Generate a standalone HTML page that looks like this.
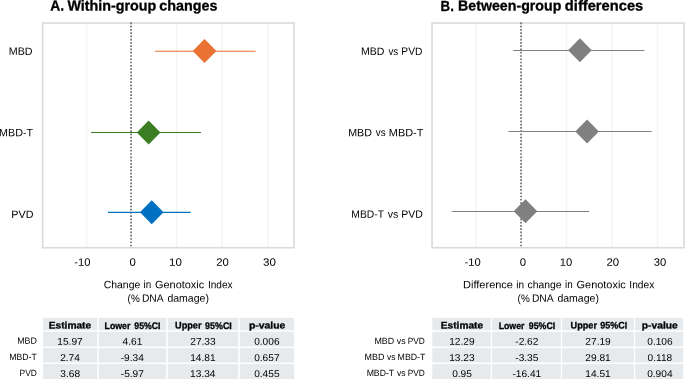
<!DOCTYPE html><html><head><meta charset="utf-8"><title>Forest plot</title><style>html,body{margin:0;padding:0;background:#fff;}svg{display:block;font-family:"Liberation Sans", sans-serif;will-change:transform;}</style></head><body>
<svg width="685" height="379" viewBox="0 0 685 379">
<rect width="685" height="379" fill="#fff"/>
<line x1="86.7" y1="23.05" x2="86.7" y2="247.75" stroke="#f3f3f3" stroke-width="1.3"/>
<line x1="176.6" y1="23.05" x2="176.6" y2="247.75" stroke="#f3f3f3" stroke-width="1.3"/>
<line x1="222.0" y1="23.05" x2="222.0" y2="247.75" stroke="#f3f3f3" stroke-width="1.3"/>
<line x1="267.7" y1="23.05" x2="267.7" y2="247.75" stroke="#f3f3f3" stroke-width="1.3"/>
<rect x="42.6" y="23.05" width="251.4" height="224.7" fill="none" stroke="#dadada" stroke-width="1.6"/>
<line x1="131.05" y1="22.45" x2="131.05" y2="246.4" stroke="#4d4d4d" stroke-width="1.4" stroke-dasharray="1.7 1.568"/>
<line x1="155.0" y1="51.3" x2="255.6" y2="51.3" stroke="#e97132" stroke-width="1.1"/>
<polygon points="192.75,50.90 204.55,38.90 216.35,50.90 204.55,62.90" fill="#e97132"/>
<line x1="91.0" y1="132.5" x2="201.0" y2="132.5" stroke="#3b7d23" stroke-width="1.1"/>
<polygon points="136.85,132.50 148.65,120.50 160.45,132.50 148.65,144.50" fill="#3b7d23"/>
<line x1="108.0" y1="212.35" x2="190.7" y2="212.35" stroke="#0070c0" stroke-width="1.1"/>
<polygon points="139.95,212.15 151.75,200.15 163.55,212.15 151.75,224.15" fill="#0070c0"/>
<text transform="rotate(0.03 57.3 5.5)" x="50.38" y="10.57" font-size="14.6" textLength="13.78" lengthAdjust="spacingAndGlyphs" font-weight="700" stroke="#000" stroke-width="0.3" fill="#000">A.</text>
<text transform="rotate(0.03 111.9 5.5)" x="67.45" y="10.57" font-size="14.6" textLength="88.87" lengthAdjust="spacingAndGlyphs" font-weight="700" stroke="#000" stroke-width="0.3" fill="#000">Within-group</text>
<text transform="rotate(0.03 188.4 5.5)" x="159.30" y="10.57" font-size="14.6" textLength="58.23" lengthAdjust="spacingAndGlyphs" font-weight="700" stroke="#000" stroke-width="0.3" fill="#000">changes</text>
<text transform="rotate(0.03 20.6 51.2)" x="8.71" y="54.88" font-size="10.7" textLength="23.81" lengthAdjust="spacingAndGlyphs" fill="#000">MBD</text>
<text transform="rotate(0.03 16.1 132.7)" x="-0.89" y="136.33" font-size="10.7" textLength="33.92" lengthAdjust="spacingAndGlyphs" fill="#000">MBD-T</text>
<text transform="rotate(0.03 22.4 214.2)" x="11.31" y="217.93" font-size="10.7" textLength="22.11" lengthAdjust="spacingAndGlyphs" fill="#000">PVD</text>
<text transform="rotate(0.03 82.3 262.0)" x="74.20" y="265.68" font-size="10.7" textLength="16.23" lengthAdjust="spacingAndGlyphs" fill="#000">-10</text>
<text transform="rotate(0.03 132.8 262.0)" x="129.59" y="265.68" font-size="10.7" textLength="6.34" lengthAdjust="spacingAndGlyphs" fill="#000">0</text>
<text transform="rotate(0.03 175.4 262.0)" x="169.03" y="265.68" font-size="10.7" textLength="12.81" lengthAdjust="spacingAndGlyphs" fill="#000">10</text>
<text transform="rotate(0.03 222.6 262.0)" x="216.32" y="265.68" font-size="10.7" textLength="12.61" lengthAdjust="spacingAndGlyphs" fill="#000">20</text>
<text transform="rotate(0.03 269.5 262.0)" x="263.09" y="265.68" font-size="10.7" textLength="12.85" lengthAdjust="spacingAndGlyphs" fill="#000">30</text>
<text transform="rotate(0.03 122.0 284.6)" x="103.76" y="288.28" font-size="10.7" textLength="36.51" lengthAdjust="spacingAndGlyphs" fill="#000">Change</text>
<text transform="rotate(0.03 147.5 284.6)" x="143.63" y="288.28" font-size="10.7" textLength="7.67" lengthAdjust="spacingAndGlyphs" fill="#000">in</text>
<text transform="rotate(0.03 179.6 284.6)" x="155.04" y="288.28" font-size="10.7" textLength="49.13" lengthAdjust="spacingAndGlyphs" fill="#000">Genotoxic</text>
<text transform="rotate(0.03 220.3 284.6)" x="207.96" y="288.28" font-size="10.7" textLength="24.64" lengthAdjust="spacingAndGlyphs" fill="#000">Index</text>
<text transform="rotate(0.03 133.7 298.1)" x="127.58" y="301.83" font-size="10.7" textLength="12.16" lengthAdjust="spacingAndGlyphs" fill="#000">(%</text>
<text transform="rotate(0.03 152.8 298.1)" x="141.95" y="301.83" font-size="10.7" textLength="21.75" lengthAdjust="spacingAndGlyphs" fill="#000">DNA</text>
<text transform="rotate(0.03 188.2 298.1)" x="167.42" y="301.83" font-size="10.7" textLength="41.52" lengthAdjust="spacingAndGlyphs" fill="#000">damage)</text>
<line x1="476.3" y1="23.05" x2="476.3" y2="247.75" stroke="#f3f3f3" stroke-width="1.3"/>
<line x1="566.5" y1="23.05" x2="566.5" y2="247.75" stroke="#f3f3f3" stroke-width="1.3"/>
<line x1="612.3" y1="23.05" x2="612.3" y2="247.75" stroke="#f3f3f3" stroke-width="1.3"/>
<line x1="657.5" y1="23.05" x2="657.5" y2="247.75" stroke="#f3f3f3" stroke-width="1.3"/>
<rect x="432.05" y="23.05" width="251.95" height="224.7" fill="none" stroke="#dadada" stroke-width="1.6"/>
<line x1="521.05" y1="22.45" x2="521.05" y2="246.4" stroke="#4d4d4d" stroke-width="1.4" stroke-dasharray="1.7 1.568"/>
<line x1="513.2" y1="50.5" x2="644.4" y2="50.5" stroke="#808080" stroke-width="1.05"/>
<polygon points="568.10,50.30 579.90,38.30 591.70,50.30 579.90,62.30" fill="#808080"/>
<line x1="508.3" y1="131.5" x2="651.8" y2="131.5" stroke="#808080" stroke-width="1.05"/>
<polygon points="575.30,131.60 587.10,119.60 598.90,131.60 587.10,143.60" fill="#808080"/>
<line x1="451.9" y1="211.5" x2="589.1" y2="211.5" stroke="#808080" stroke-width="1.05"/>
<polygon points="513.70,211.30 525.50,199.30 537.30,211.30 525.50,223.30" fill="#808080"/>
<text transform="rotate(0.03 447.2 5.5)" x="440.62" y="10.57" font-size="14.6" textLength="13.21" lengthAdjust="spacingAndGlyphs" font-weight="700" stroke="#000" stroke-width="0.3" fill="#000">B.</text>
<text transform="rotate(0.03 509.7 5.5)" x="458.11" y="10.57" font-size="14.6" textLength="103.20" lengthAdjust="spacingAndGlyphs" font-weight="700" stroke="#000" stroke-width="0.3" fill="#000">Between-group</text>
<text transform="rotate(0.03 604.1 5.5)" x="564.89" y="10.57" font-size="14.6" textLength="78.35" lengthAdjust="spacingAndGlyphs" font-weight="700" stroke="#000" stroke-width="0.3" fill="#000">differences</text>
<text transform="rotate(0.03 372.7 51.2)" x="360.92" y="54.88" font-size="10.7" textLength="23.49" lengthAdjust="spacingAndGlyphs" fill="#000">MBD</text>
<text transform="rotate(0.03 393.3 51.2)" x="388.45" y="54.88" font-size="10.7" textLength="9.70" lengthAdjust="spacingAndGlyphs" fill="#000">vs</text>
<text transform="rotate(0.03 411.9 51.2)" x="401.30" y="54.88" font-size="10.7" textLength="21.11" lengthAdjust="spacingAndGlyphs" fill="#000">PVD</text>
<text transform="rotate(0.03 360.1 132.7)" x="348.22" y="136.33" font-size="10.7" textLength="23.70" lengthAdjust="spacingAndGlyphs" fill="#000">MBD</text>
<text transform="rotate(0.03 380.8 132.7)" x="375.85" y="136.33" font-size="10.7" textLength="9.81" lengthAdjust="spacingAndGlyphs" fill="#000">vs</text>
<text transform="rotate(0.03 406.1 132.7)" x="388.80" y="136.33" font-size="10.7" textLength="34.54" lengthAdjust="spacingAndGlyphs" fill="#000">MBD-T</text>
<text transform="rotate(0.03 367.7 214.1)" x="351.34" y="217.73" font-size="10.7" textLength="32.63" lengthAdjust="spacingAndGlyphs" fill="#000">MBD-T</text>
<text transform="rotate(0.03 392.9 214.1)" x="387.65" y="217.73" font-size="10.7" textLength="10.53" lengthAdjust="spacingAndGlyphs" fill="#000">vs</text>
<text transform="rotate(0.03 412.1 214.1)" x="401.28" y="217.73" font-size="10.7" textLength="21.64" lengthAdjust="spacingAndGlyphs" fill="#000">PVD</text>
<text transform="rotate(0.03 472.7 262.0)" x="464.60" y="265.68" font-size="10.7" textLength="16.23" lengthAdjust="spacingAndGlyphs" fill="#000">-10</text>
<text transform="rotate(0.03 523.0 262.0)" x="519.79" y="265.68" font-size="10.7" textLength="6.34" lengthAdjust="spacingAndGlyphs" fill="#000">0</text>
<text transform="rotate(0.03 566.1 262.0)" x="559.85" y="265.68" font-size="10.7" textLength="12.48" lengthAdjust="spacingAndGlyphs" fill="#000">10</text>
<text transform="rotate(0.03 612.9 262.0)" x="606.51" y="265.68" font-size="10.7" textLength="12.72" lengthAdjust="spacingAndGlyphs" fill="#000">20</text>
<text transform="rotate(0.03 660.0 262.0)" x="653.70" y="265.68" font-size="10.7" textLength="12.53" lengthAdjust="spacingAndGlyphs" fill="#000">30</text>
<text transform="rotate(0.03 488.0 284.6)" x="463.14" y="288.28" font-size="10.7" textLength="49.80" lengthAdjust="spacingAndGlyphs" fill="#000">Difference</text>
<text transform="rotate(0.03 520.3 284.6)" x="516.37" y="288.28" font-size="10.7" textLength="7.79" lengthAdjust="spacingAndGlyphs" fill="#000">in</text>
<text transform="rotate(0.03 544.5 284.6)" x="527.48" y="288.28" font-size="10.7" textLength="34.04" lengthAdjust="spacingAndGlyphs" fill="#000">change</text>
<text transform="rotate(0.03 569.0 284.6)" x="565.13" y="288.28" font-size="10.7" textLength="7.67" lengthAdjust="spacingAndGlyphs" fill="#000">in</text>
<text transform="rotate(0.03 601.2 284.6)" x="576.59" y="288.28" font-size="10.7" textLength="49.23" lengthAdjust="spacingAndGlyphs" fill="#000">Genotoxic</text>
<text transform="rotate(0.03 641.8 284.6)" x="629.35" y="288.28" font-size="10.7" textLength="24.95" lengthAdjust="spacingAndGlyphs" fill="#000">Index</text>
<text transform="rotate(0.03 523.7 298.1)" x="517.58" y="301.83" font-size="10.7" textLength="12.16" lengthAdjust="spacingAndGlyphs" fill="#000">(%</text>
<text transform="rotate(0.03 542.8 298.1)" x="531.95" y="301.83" font-size="10.7" textLength="21.75" lengthAdjust="spacingAndGlyphs" fill="#000">DNA</text>
<text transform="rotate(0.03 578.2 298.1)" x="557.42" y="301.83" font-size="10.7" textLength="41.52" lengthAdjust="spacingAndGlyphs" fill="#000">damage)</text>
<rect x="43.05" y="317.85" width="251.05" height="63.15" fill="#e7eaed"/>
<rect x="97.28" y="316.85" width="1.45" height="64.14999999999998" fill="#fff"/>
<rect x="166.33" y="316.85" width="1.45" height="64.14999999999998" fill="#fff"/>
<rect x="238.18" y="316.85" width="1.45" height="64.14999999999998" fill="#fff"/>
<rect x="42.05" y="330.35" width="253.05" height="1.5" fill="#fff"/>
<rect x="42.05" y="346.55" width="253.05" height="1.5" fill="#fff"/>
<rect x="42.05" y="362.55" width="253.05" height="1.5" fill="#fff"/>
<rect x="432.25" y="317.85" width="250.95" height="63.15" fill="#e7eaed"/>
<rect x="490.80" y="316.85" width="1.3" height="64.14999999999998" fill="#fff"/>
<rect x="560.85" y="316.85" width="1.3" height="64.14999999999998" fill="#fff"/>
<rect x="633.85" y="316.85" width="1.3" height="64.14999999999998" fill="#fff"/>
<rect x="431.25" y="330.35" width="252.95" height="1.5" fill="#fff"/>
<rect x="431.25" y="346.55" width="252.95" height="1.5" fill="#fff"/>
<rect x="431.25" y="362.55" width="252.95" height="1.5" fill="#fff"/>
<text transform="rotate(0.03 70.0 325.2)" x="48.71" y="328.55" font-size="9.6" textLength="42.49" lengthAdjust="spacingAndGlyphs" font-weight="700" stroke="#000" stroke-width="0.3" fill="#000">Estimate</text>
<text transform="rotate(0.03 117.5 325.2)" x="104.60" y="328.55" font-size="9.6" textLength="25.82" lengthAdjust="spacingAndGlyphs" font-weight="700" stroke="#000" stroke-width="0.3" fill="#000">Lower</text>
<text transform="rotate(0.03 147.4 325.2)" x="134.33" y="328.55" font-size="9.6" textLength="26.14" lengthAdjust="spacingAndGlyphs" font-weight="700" stroke="#000" stroke-width="0.3" fill="#000">95%CI</text>
<text transform="rotate(0.03 188.3 325.2)" x="175.02" y="328.55" font-size="9.6" textLength="26.46" lengthAdjust="spacingAndGlyphs" font-weight="700" stroke="#000" stroke-width="0.3" fill="#000">Upper</text>
<text transform="rotate(0.03 218.4 325.2)" x="205.12" y="328.55" font-size="9.6" textLength="26.65" lengthAdjust="spacingAndGlyphs" font-weight="700" stroke="#000" stroke-width="0.3" fill="#000">95%CI</text>
<text transform="rotate(0.03 267.1 325.2)" x="248.90" y="328.55" font-size="9.6" textLength="36.41" lengthAdjust="spacingAndGlyphs" font-weight="700" stroke="#000" stroke-width="0.3" fill="#000">p-value</text>
<text transform="rotate(0.03 27.0 340.7)" x="17.16" y="343.85" font-size="9.15" textLength="19.70" lengthAdjust="spacingAndGlyphs" fill="#000">MBD</text>
<text transform="rotate(0.03 23.0 356.9)" x="9.27" y="360.00" font-size="9.15" textLength="27.42" lengthAdjust="spacingAndGlyphs" fill="#000">MBD-T</text>
<text transform="rotate(0.03 28.2 372.9)" x="19.54" y="376.05" font-size="9.15" textLength="17.30" lengthAdjust="spacingAndGlyphs" fill="#000">PVD</text>
<text transform="rotate(0.03 70.0 341.4)" x="57.34" y="344.74" font-size="9.85" textLength="25.39" lengthAdjust="spacingAndGlyphs" fill="#000">15.97</text>
<text transform="rotate(0.03 132.4 341.4)" x="122.55" y="344.74" font-size="9.85" textLength="19.75" lengthAdjust="spacingAndGlyphs" fill="#000">4.61</text>
<text transform="rotate(0.03 203.0 341.4)" x="190.27" y="344.74" font-size="9.85" textLength="25.39" lengthAdjust="spacingAndGlyphs" fill="#000">27.33</text>
<text transform="rotate(0.03 266.8 341.4)" x="254.15" y="344.74" font-size="9.85" textLength="25.39" lengthAdjust="spacingAndGlyphs" fill="#000">0.006</text>
<text transform="rotate(0.03 70.0 357.6)" x="60.17" y="360.94" font-size="9.85" textLength="19.75" lengthAdjust="spacingAndGlyphs" fill="#000">2.74</text>
<text transform="rotate(0.03 132.3 357.6)" x="120.71" y="360.94" font-size="9.85" textLength="23.12" lengthAdjust="spacingAndGlyphs" fill="#000">-9.34</text>
<text transform="rotate(0.03 202.9 357.6)" x="190.19" y="360.94" font-size="9.85" textLength="25.39" lengthAdjust="spacingAndGlyphs" fill="#000">14.81</text>
<text transform="rotate(0.03 266.8 357.6)" x="254.15" y="360.94" font-size="9.85" textLength="25.39" lengthAdjust="spacingAndGlyphs" fill="#000">0.657</text>
<text transform="rotate(0.03 70.2 373.7)" x="60.32" y="377.09" font-size="9.85" textLength="19.75" lengthAdjust="spacingAndGlyphs" fill="#000">3.68</text>
<text transform="rotate(0.03 132.3 373.7)" x="120.78" y="377.09" font-size="9.85" textLength="23.12" lengthAdjust="spacingAndGlyphs" fill="#000">-5.97</text>
<text transform="rotate(0.03 202.8 373.7)" x="190.12" y="377.09" font-size="9.85" textLength="25.39" lengthAdjust="spacingAndGlyphs" fill="#000">13.34</text>
<text transform="rotate(0.03 266.8 373.7)" x="254.15" y="377.09" font-size="9.85" textLength="25.39" lengthAdjust="spacingAndGlyphs" fill="#000">0.455</text>
<text transform="rotate(0.03 462.0 325.2)" x="440.82" y="328.55" font-size="9.6" textLength="42.29" lengthAdjust="spacingAndGlyphs" font-weight="700" stroke="#000" stroke-width="0.3" fill="#000">Estimate</text>
<text transform="rotate(0.03 511.6 325.2)" x="498.70" y="328.55" font-size="9.6" textLength="25.72" lengthAdjust="spacingAndGlyphs" font-weight="700" stroke="#000" stroke-width="0.3" fill="#000">Lower</text>
<text transform="rotate(0.03 542.0 325.2)" x="528.83" y="328.55" font-size="9.6" textLength="26.34" lengthAdjust="spacingAndGlyphs" font-weight="700" stroke="#000" stroke-width="0.3" fill="#000">95%CI</text>
<text transform="rotate(0.03 583.8 325.2)" x="570.57" y="328.55" font-size="9.6" textLength="26.41" lengthAdjust="spacingAndGlyphs" font-weight="700" stroke="#000" stroke-width="0.3" fill="#000">Upper</text>
<text transform="rotate(0.03 613.8 325.2)" x="600.37" y="328.55" font-size="9.6" textLength="26.86" lengthAdjust="spacingAndGlyphs" font-weight="700" stroke="#000" stroke-width="0.3" fill="#000">95%CI</text>
<text transform="rotate(0.03 659.8 325.2)" x="641.81" y="328.55" font-size="9.6" textLength="36.00" lengthAdjust="spacingAndGlyphs" font-weight="700" stroke="#000" stroke-width="0.3" fill="#000">p-value</text>
<text transform="rotate(0.03 384.4 340.8)" x="374.45" y="343.90" font-size="9.15" textLength="19.81" lengthAdjust="spacingAndGlyphs" fill="#000">MBD</text>
<text transform="rotate(0.03 401.2 340.8)" x="396.75" y="343.90" font-size="9.15" textLength="8.88" lengthAdjust="spacingAndGlyphs" fill="#000">vs</text>
<text transform="rotate(0.03 416.3 340.8)" x="407.75" y="343.90" font-size="9.15" textLength="17.09" lengthAdjust="spacingAndGlyphs" fill="#000">PVD</text>
<text transform="rotate(0.03 374.6 356.9)" x="364.60" y="360.05" font-size="9.15" textLength="19.91" lengthAdjust="spacingAndGlyphs" fill="#000">MBD</text>
<text transform="rotate(0.03 391.3 356.9)" x="387.05" y="360.05" font-size="9.15" textLength="8.46" lengthAdjust="spacingAndGlyphs" fill="#000">vs</text>
<text transform="rotate(0.03 411.5 356.9)" x="397.62" y="360.05" font-size="9.15" textLength="27.68" lengthAdjust="spacingAndGlyphs" fill="#000">MBD-T</text>
<text transform="rotate(0.03 380.4 372.8)" x="366.67" y="375.95" font-size="9.15" textLength="27.42" lengthAdjust="spacingAndGlyphs" fill="#000">MBD-T</text>
<text transform="rotate(0.03 401.3 372.8)" x="397.00" y="375.95" font-size="9.15" textLength="8.62" lengthAdjust="spacingAndGlyphs" fill="#000">vs</text>
<text transform="rotate(0.03 416.3 372.8)" x="407.75" y="375.95" font-size="9.15" textLength="17.09" lengthAdjust="spacingAndGlyphs" fill="#000">PVD</text>
<text transform="rotate(0.03 461.9 341.4)" x="449.19" y="344.74" font-size="9.85" textLength="25.39" lengthAdjust="spacingAndGlyphs" fill="#000">12.29</text>
<text transform="rotate(0.03 526.8 341.4)" x="515.28" y="344.74" font-size="9.85" textLength="23.12" lengthAdjust="spacingAndGlyphs" fill="#000">-2.62</text>
<text transform="rotate(0.03 598.1 341.4)" x="585.37" y="344.74" font-size="9.85" textLength="25.39" lengthAdjust="spacingAndGlyphs" fill="#000">27.19</text>
<text transform="rotate(0.03 659.9 341.4)" x="647.25" y="344.74" font-size="9.85" textLength="25.39" lengthAdjust="spacingAndGlyphs" fill="#000">0.106</text>
<text transform="rotate(0.03 461.9 357.6)" x="449.19" y="360.94" font-size="9.85" textLength="25.39" lengthAdjust="spacingAndGlyphs" fill="#000">13.23</text>
<text transform="rotate(0.03 526.8 357.6)" x="515.28" y="360.94" font-size="9.85" textLength="23.12" lengthAdjust="spacingAndGlyphs" fill="#000">-3.35</text>
<text transform="rotate(0.03 598.1 357.6)" x="585.37" y="360.94" font-size="9.85" textLength="25.39" lengthAdjust="spacingAndGlyphs" fill="#000">29.81</text>
<text transform="rotate(0.03 659.9 357.6)" x="647.63" y="360.94" font-size="9.85" textLength="24.64" lengthAdjust="spacingAndGlyphs" fill="#000">0.118</text>
<text transform="rotate(0.03 462.0 373.7)" x="452.17" y="377.09" font-size="9.85" textLength="19.75" lengthAdjust="spacingAndGlyphs" fill="#000">0.95</text>
<text transform="rotate(0.03 526.8 373.7)" x="512.46" y="377.09" font-size="9.85" textLength="28.77" lengthAdjust="spacingAndGlyphs" fill="#000">-16.41</text>
<text transform="rotate(0.03 598.0 373.7)" x="585.29" y="377.09" font-size="9.85" textLength="25.39" lengthAdjust="spacingAndGlyphs" fill="#000">14.51</text>
<text transform="rotate(0.03 659.9 373.7)" x="647.17" y="377.09" font-size="9.85" textLength="25.39" lengthAdjust="spacingAndGlyphs" fill="#000">0.904</text>
</svg></body></html>
